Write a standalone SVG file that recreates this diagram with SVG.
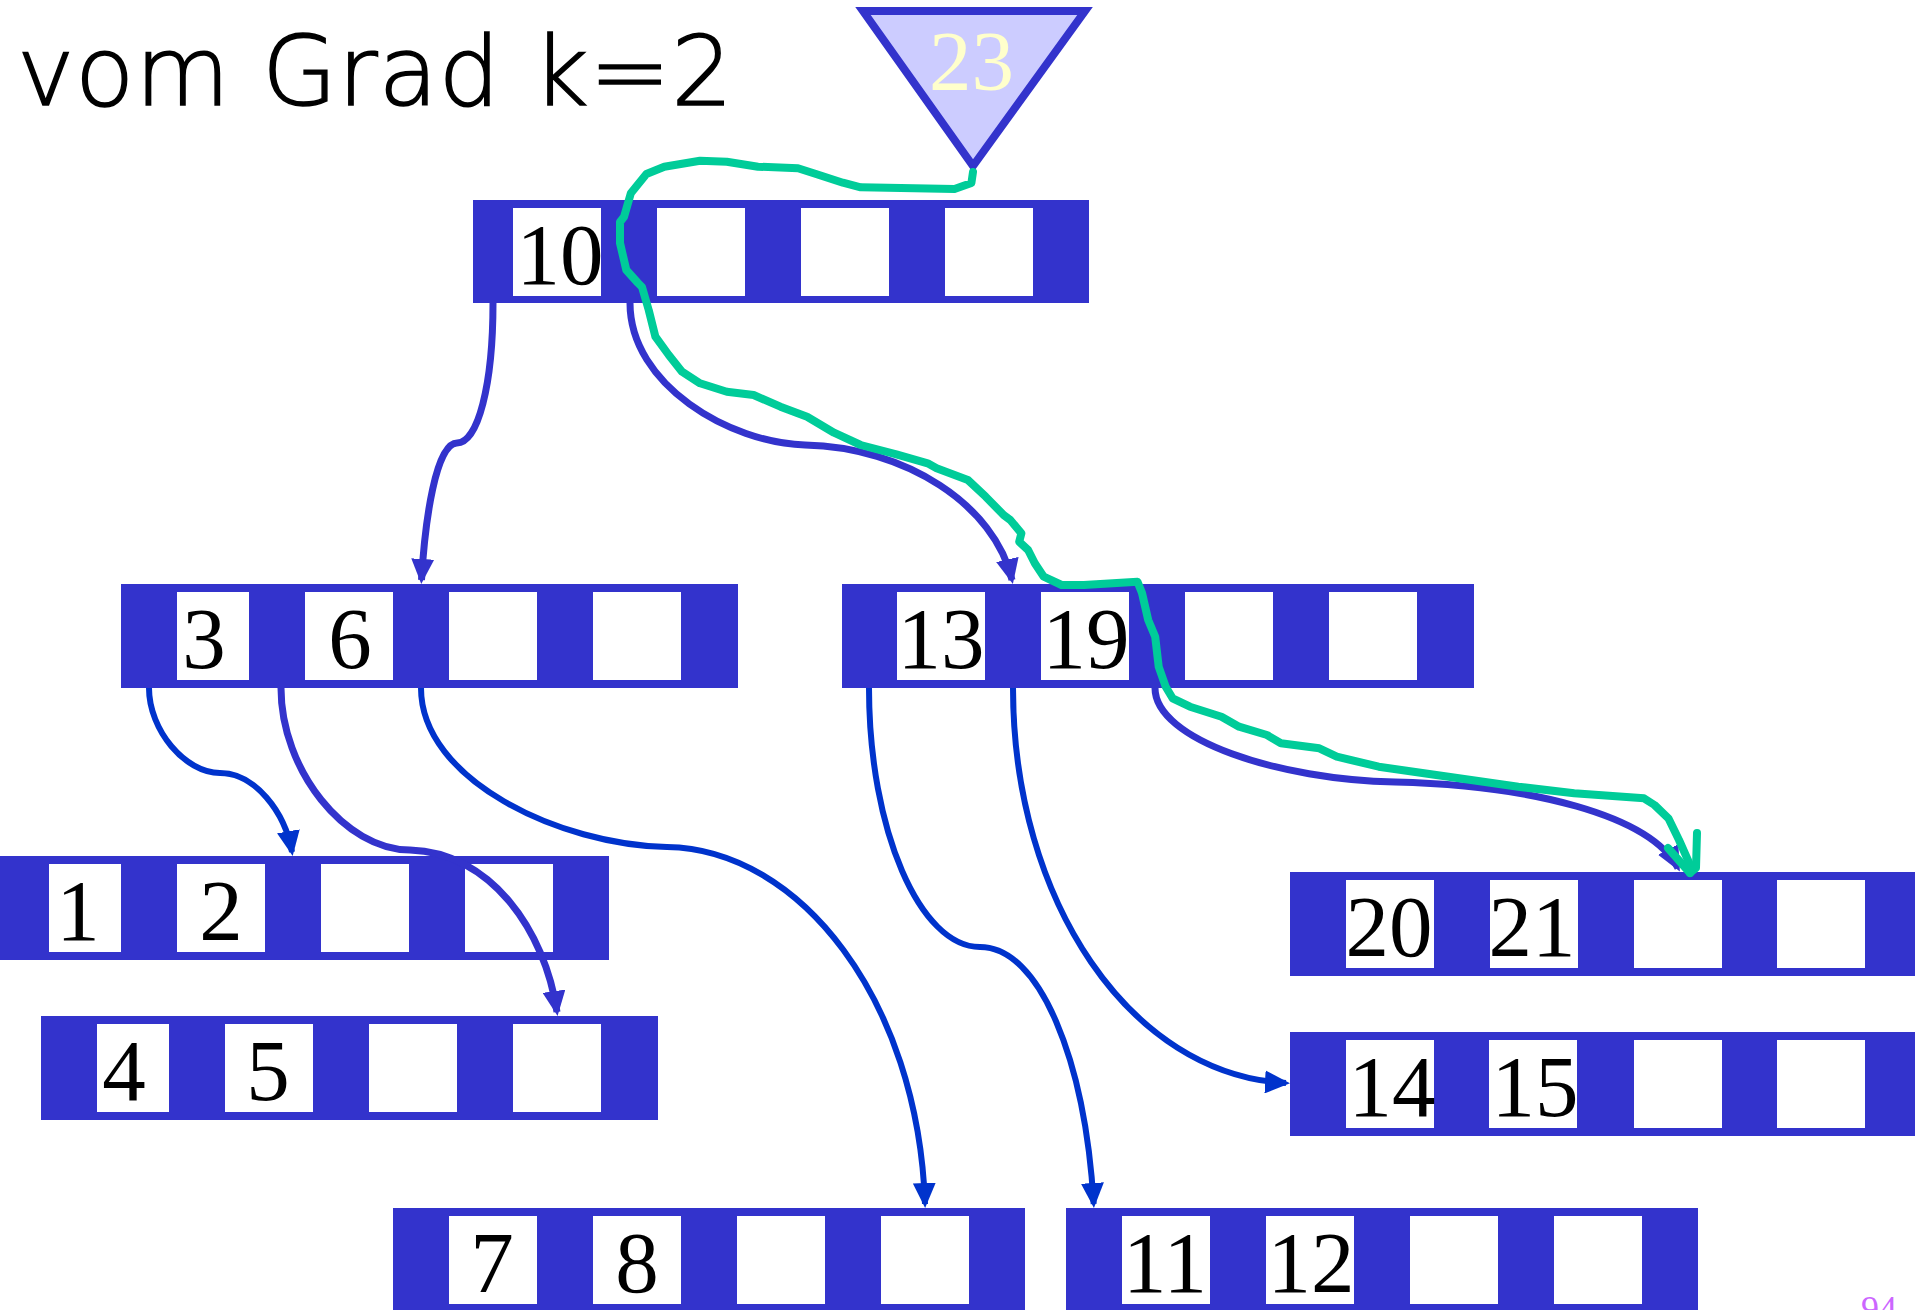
<svg xmlns="http://www.w3.org/2000/svg" width="1915" height="1310" viewBox="0 0 1915 1310">
<defs>
<style>
.blk{fill:#3333cc}
.cell{fill:#ffffff}
.num{font-family:"Liberation Serif","Times New Roman",serif;font-size:87px;fill:#000000;text-anchor:middle}
.c1{fill:none;stroke:#3333cc;stroke-width:7}
.c2{fill:none;stroke:#0033cc;stroke-width:6}
.green{fill:none;stroke:#00cc99;stroke-width:8;stroke-linejoin:round;stroke-linecap:round}
</style>
<marker id="a1" markerUnits="userSpaceOnUse" markerWidth="25" markerHeight="23" refX="21" refY="11.5" orient="auto">
<path d="M0,0 L25,11.5 L0,23 z" fill="#3333cc"/>
</marker>
<marker id="a2" markerUnits="userSpaceOnUse" markerWidth="25" markerHeight="23" refX="21" refY="11.5" orient="auto">
<path d="M0,0 L25,11.5 L0,23 z" fill="#0033cc"/>
</marker>
</defs>
<rect x="0" y="0" width="1915" height="1310" fill="#ffffff"/>

<text x="17" y="105" font-family="DejaVu Sans, Verdana, sans-serif" font-weight="200" font-size="97" textLength="716" fill="#000000" stroke="#000000" stroke-width="1.5">vom Grad k=2</text>

<g id="root">
<rect class="blk" x="473" y="200" width="616" height="103"/>
<rect class="cell" x="513" y="208" width="88" height="88"/>
<rect class="cell" x="657" y="208" width="88" height="88"/>
<rect class="cell" x="801" y="208" width="88" height="88"/>
<rect class="cell" x="945" y="208" width="88" height="88"/>
<text class="num" x="560" y="284">10</text>
</g>

<g id="n36">
<rect class="blk" x="121" y="584" width="617" height="104"/>
<rect class="cell" x="177" y="592" width="72" height="88"/>
<rect class="cell" x="305" y="592" width="88" height="88"/>
<rect class="cell" x="449" y="592" width="88" height="88"/>
<rect class="cell" x="593" y="592" width="88" height="88"/>
<text class="num" x="204" y="668">3</text>
<text class="num" x="350" y="668">6</text>
</g>

<g id="n12">
<rect class="blk" x="-8" y="856" width="617" height="104"/>
<rect class="cell" x="49" y="864" width="72" height="88"/>
<rect class="cell" x="177" y="864" width="88" height="88"/>
<rect class="cell" x="321" y="864" width="88" height="88"/>
<rect class="cell" x="465" y="864" width="88" height="88"/>
<text class="num" x="78" y="940">1</text>
<text class="num" x="221" y="940">2</text>
</g>

<g id="n45">
<rect class="blk" x="41" y="1016" width="617" height="104"/>
<rect class="cell" x="97" y="1024" width="72" height="88"/>
<rect class="cell" x="225" y="1024" width="88" height="88"/>
<rect class="cell" x="369" y="1024" width="88" height="88"/>
<rect class="cell" x="513" y="1024" width="88" height="88"/>
<text class="num" x="124" y="1100">4</text>
<text class="num" x="268" y="1100">5</text>
</g>

<g id="n1319">
<rect class="blk" x="842" y="584" width="632" height="104"/>
<rect class="cell" x="897" y="592" width="88" height="88"/>
<rect class="cell" x="1041" y="592" width="88" height="88"/>
<rect class="cell" x="1185" y="592" width="88" height="88"/>
<rect class="cell" x="1329" y="592" width="88" height="88"/>
<text class="num" x="941" y="668">13</text>
<text class="num" x="1086" y="668">19</text>
</g>

<g id="n2021">
<rect class="blk" x="1290" y="872" width="640" height="104"/>
<rect class="cell" x="1346" y="880" width="88" height="88"/>
<rect class="cell" x="1490" y="880" width="88" height="88"/>
<rect class="cell" x="1634" y="880" width="88" height="88"/>
<rect class="cell" x="1777" y="880" width="88" height="88"/>
<text class="num" x="1389" y="956">20</text>
<text class="num" x="1532" y="956">21</text>
</g>

<g id="n1415">
<rect class="blk" x="1290" y="1032" width="640" height="104"/>
<rect class="cell" x="1346" y="1040" width="88" height="88"/>
<rect class="cell" x="1489" y="1040" width="88" height="88"/>
<rect class="cell" x="1634" y="1040" width="88" height="88"/>
<rect class="cell" x="1777" y="1040" width="88" height="88"/>
<text class="num" x="1392" y="1116">14</text>
<text class="num" x="1535" y="1116">15</text>
</g>

<g id="n78">
<rect class="blk" x="393" y="1208" width="632" height="104"/>
<rect class="cell" x="449" y="1216" width="88" height="88"/>
<rect class="cell" x="593" y="1216" width="88" height="88"/>
<rect class="cell" x="737" y="1216" width="88" height="88"/>
<rect class="cell" x="881" y="1216" width="88" height="88"/>
<text class="num" x="492" y="1292">7</text>
<text class="num" x="637" y="1292">8</text>
</g>

<g id="n1112">
<rect class="blk" x="1066" y="1208" width="632" height="104"/>
<rect class="cell" x="1122" y="1216" width="88" height="88"/>
<rect class="cell" x="1266" y="1216" width="88" height="88"/>
<rect class="cell" x="1410" y="1216" width="88" height="88"/>
<rect class="cell" x="1554" y="1216" width="88" height="88"/>
<text class="num" x="1165" y="1292">11</text>
<text class="num" x="1311" y="1292">12</text>
</g>

<g id="connectors">
<path class="c1" marker-end="url(#a1)" d="M493,303 C493,385 478,443 457,443 C436,443 425,520 421.5,580"/>
<path class="c1" marker-end="url(#a1)" d="M630,303 C630,385 730,443 805,445 C905,447 995,505 1012,580"/>
<path class="c2" stroke-width="7" marker-end="url(#a2)" d="M149,688 C149,730 185,773 220,773 C255,773 285,812 292,852"/>
<path class="c1" stroke-width="5.5" marker-end="url(#a1)" d="M281,688 C281,770 345,850 410,850 C490,852 545,930 557,1012"/>
<path class="c2" stroke-width="7" marker-end="url(#a2)" d="M421,688 C421,780 560,845 667,847 C800,849 918,1000 925,1204"/>
<path class="c2" marker-end="url(#a2)" d="M869,688 C869,830 920,947 980,947 C1040,947 1085,1060 1093.7,1204"/>
<path class="c2" marker-end="url(#a2)" d="M1013,688 C1013,900 1130,1075 1286,1083"/>
<path class="c1" marker-end="url(#a1)" d="M1155,688 C1155,740 1280,780 1395,782 C1530,785 1650,815 1678,868"/>
</g>

<g id="key23">
<polygon points="863,11 1085,11 973,166" fill="#ccccff" stroke="#3333cc" stroke-width="8"/>
<text x="971.5" y="90" font-family="Liberation Serif, Times New Roman, serif" font-size="85" fill="#ffffcc" text-anchor="middle">23</text>
</g>

<g id="searchpath">
<path class="green" d="M973,172 L971.4,183 L954.5,189 L860.7,187.3 L842.9,182.7 L816,174 L798,168.3 L758,166.7 L726.8,161.7 L700,160.7 L664.3,166.7 L646.4,174 L630.8,193.3 L624.1,216.7 L620,222 L620,243 L626.3,270 L638,283 L642,287 L648.7,310 L655.4,336.7 L668.75,355 L682,371.7 L700,383.3 L726.8,391.7 L753.6,395 L780.4,406.7 L807.1,416.7 L834,432.7 L860.7,445 L896.4,454.3 L927.7,463.3 L936.6,468.3 L967.9,480 L985.7,496.7 L1003.6,515 L1010.3,520 L1021.4,533.3 L1019.2,541.7 L1028.1,550 L1034.8,563.3 L1043.75,576.7 L1061.6,585 L1083.9,585 L1137.5,581.7 L1142,593 L1148.2,620 L1155.2,636.7 L1158.7,666.7 L1165.7,686.7 L1172.6,698.3 L1190,706.7 L1221.5,716.7 L1239,726.7 L1267,735 L1280.9,743.3 L1319.3,748.3 L1336.8,756.7 L1378.7,766.7 L1448.5,776.7 L1518.3,786.7 L1574.2,793.3 L1644,798.3 L1654.5,805 L1668.4,818.3 L1679,840 L1689.4,863.3 L1690,873"/>
<path class="green" d="M1668,848 L1690,873 M1697,833 L1696,868 L1690,873"/>
</g>

<text x="1861" y="1321" font-family="Liberation Serif, Times New Roman, serif" font-size="36" fill="#cc66ff">94</text>
</svg>
